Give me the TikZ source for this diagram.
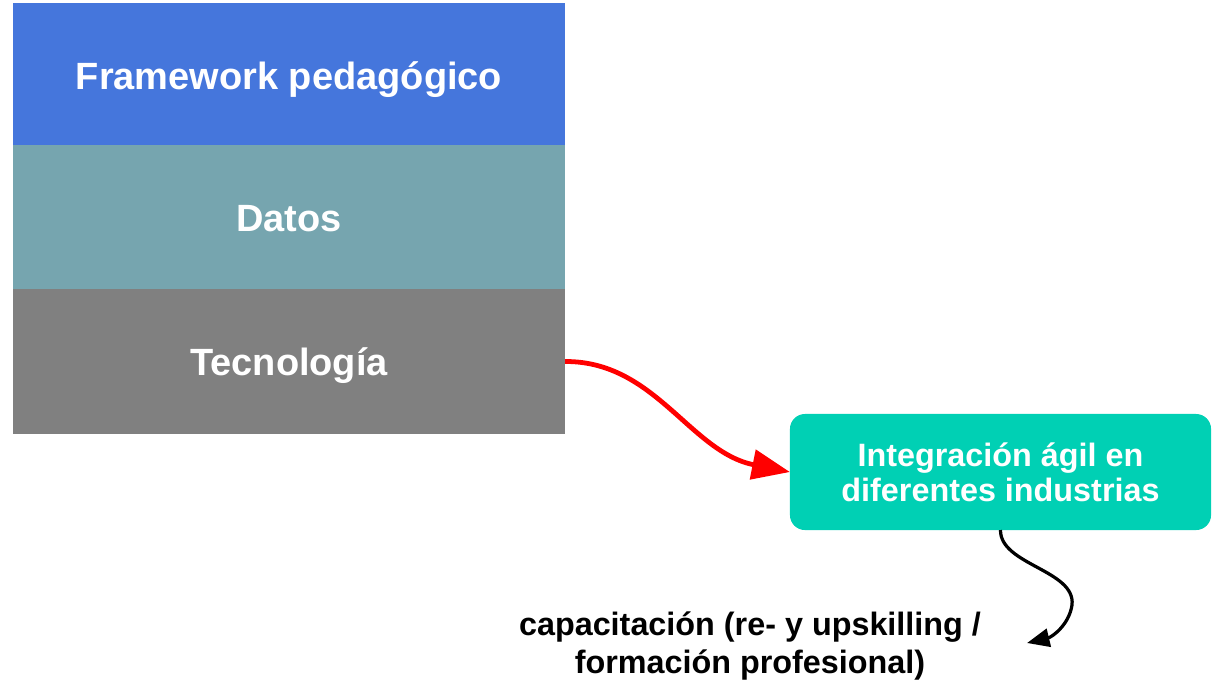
\documentclass[tikz,border=0pt]{standalone}
\usepackage{fontspec}
\setmainfont{Liberation Sans}
\usetikzlibrary{arrows.meta}

\definecolor{capaazul}{RGB}{69,118,220}
\definecolor{capadatos}{RGB}{118,165,175}
\definecolor{capagris}{RGB}{128,128,128}
\definecolor{integverde}{RGB}{0,208,180}

\begin{document}
\begin{tikzpicture}[x=0.025cm, y=-0.025cm,
	capa/.style={minimum width=13.8cm, minimum height=3.6cm, inner sep=0pt, outer sep=0pt, text height=20pt, text depth=0pt, text=white, font=\bfseries\fontsize{27}{32}\selectfont},
	integ/.style={fill=integverde, rounded corners=0.375cm, minimum width=10.525cm, minimum height=2.9cm, inner sep=0pt, outer sep=0pt, text=white, align=center, font=\bfseries\fontsize{23}{25}\selectfont},
	flecharoja/.style={red, line width=3.4pt, -{Triangle[length=27pt, width=21pt]}},
	flechanegra/.style={black, line width=2.3pt, -{Triangle[length=16pt, width=13pt]}}]
			\useasboundingbox (0, 0) rectangle (1217, 680);
			
			\node[capa, fill=capaazul] (frame) at (289, 75) {Framework pedagógico};
			\node[capa, fill=capadatos] (datos) at (289, 217.5) {Datos};
			\node[capa, fill=capagris] (tec) at (289, 361.5) {Tecnología};
			
			\node[integ] (ind) at (1000.5, 472) {Integración ágil en\\diferentes industrias};
			\node[align=center, font=\bfseries\fontsize{23}{27}\selectfont] (capac) at (750, 646) {capacitación (re- y upskilling /\\formación profesional)};
			\coordinate (capend) at (1027, 643);
			
			\draw[flecharoja] (tec.east) .. controls (655, 361) and (690, 452) .. (ind.west);
			\draw[flechanegra] (ind.south) .. controls (1000, 565) and (1076, 570) .. (1072, 605) .. controls (1069, 625) and (1052, 637) .. (capend);
			\end{tikzpicture}
\end{document}
